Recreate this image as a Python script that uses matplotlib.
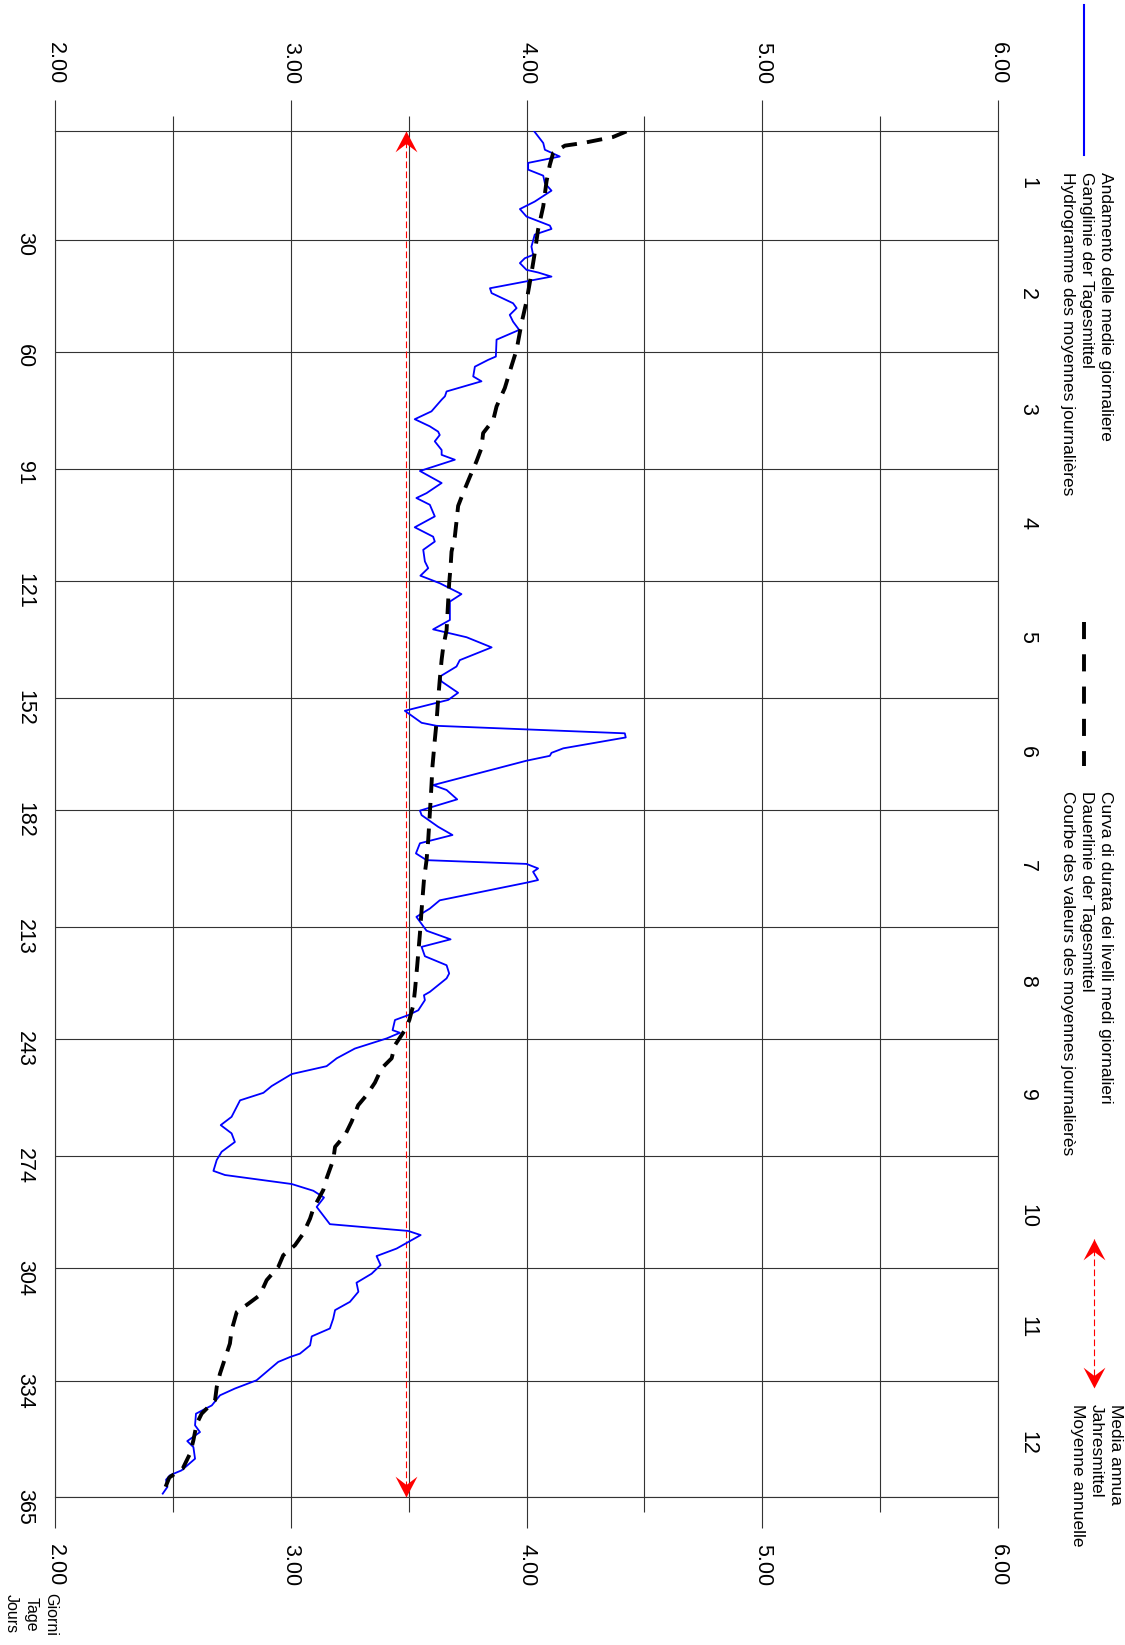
import numpy as np
import matplotlib.pyplot as plt
from matplotlib.path import Path
from matplotlib.ticker import FixedLocator, FixedFormatter

plt.rcParams['font.family'] = ['Liberation Sans', 'DejaVu Sans']

# daily mean water level, vertices of the hydrograph (day of year, level)
daily_day = [1.1, 4.2, 6.0, 7.8, 9.5, 11.3, 12.9, 14.9, 16.9, 19.8, 21.8, 23.8, 26.2, 27.1,
             28.6, 31.8, 34.0, 34.9, 36.2, 38.0, 38.7, 39.8, 42.9, 44.2, 46.9, 48.2, 50.0,
             51.8, 54.0, 56.6, 61.1, 62.0, 63.8, 66.4, 67.7, 70.4, 71.7, 72.6, 75.7, 77.8,
             79.7, 81.1, 82.0, 83.7, 86.0, 87.3, 88.6, 91.6, 94.8, 97.5, 98.8, 100.6, 103.7,
             106.6, 109.1, 110.4, 112.6, 115.7, 117.5, 119.5, 121.5, 124.4, 126.4, 131.3,
             133.8, 135.9, 138.6, 142.0, 143.7, 146.4, 147.7, 150.7, 152.6, 155.5, 158.7,
             159.5, 161.5, 162.6, 165.5, 166.7, 167.5, 168.8, 175.3, 176.6, 179.1, 182.1,
             183.3, 186.4, 188.6, 190.8, 193.5, 195.3, 196.3, 197.5, 198.4, 200.6, 201.3,
             206.0, 208.2, 210.4, 214.1, 216.4, 218.4, 220.9, 223.3, 225.5, 226.8, 230.4,
             231.3, 232.6, 235.3, 236.6, 237.9, 240.6, 241.3, 242.8, 245.5, 248.1, 250.2,
             252.3, 255.5, 257.3, 259.3, 263.7, 265.9, 268.1, 270.4, 273.0, 275.2, 278.1,
             279.2, 281.6, 283.4, 285.2, 287.7, 292.3, 294.1, 295.2, 298.8, 300.8, 303.2,
             305.5, 307.9, 310.3, 313.0, 315.2, 317.5, 320.1, 322.2, 324.6, 326.8, 327.7,
             329.0, 332.0, 333.9, 336.1, 337.9, 340.6, 342.8, 345.9, 347.7, 350.1, 351.7,
             354.8, 357.9, 359.2, 360.4, 362.3, 364.1]
daily_level = [4.033, 4.071, 4.078, 4.141, 4.007, 4.007, 4.071, 4.078, 4.106, 4.035, 3.972,
               4.000, 4.099, 4.106, 4.035, 4.021, 4.028, 3.993, 3.972, 4.000, 4.049, 4.106,
               3.845, 3.852, 3.943, 3.958, 3.929, 3.943, 3.969, 3.873, 3.870, 3.837, 3.781,
               3.774, 3.809, 3.661, 3.654, 3.640, 3.597, 3.526, 3.590, 3.625, 3.632, 3.611,
               3.640, 3.640, 3.696, 3.548, 3.640, 3.576, 3.533, 3.590, 3.611, 3.526, 3.604,
               3.611, 3.562, 3.569, 3.583, 3.550, 3.632, 3.724, 3.675, 3.675, 3.604, 3.746,
               3.852, 3.717, 3.703, 3.632, 3.640, 3.710, 3.668, 3.484, 3.555, 3.618, 4.417,
               4.421, 4.156, 4.106, 4.099, 4.000, 3.604, 3.661, 3.706, 3.548, 3.555, 3.625,
               3.686, 3.548, 3.531, 3.576, 4.000, 4.049, 4.028, 4.049, 4.000, 3.632, 3.590,
               3.533, 3.576, 3.678, 3.555, 3.569, 3.661, 3.672, 3.661, 3.590, 3.565, 3.569,
               3.541, 3.498, 3.442, 3.432, 3.463, 3.407, 3.272, 3.195, 3.152, 3.004, 2.919,
               2.884, 2.785, 2.749, 2.703, 2.749, 2.763, 2.707, 2.686, 2.672, 2.721, 3.004,
               3.096, 3.141, 3.110, 3.166, 3.498, 3.551, 3.449, 3.364, 3.381, 3.343, 3.279,
               3.287, 3.251, 3.188, 3.180, 3.166, 3.089, 3.082, 3.039, 2.997, 2.947, 2.891,
               2.855, 2.763, 2.700, 2.665, 2.598, 2.594, 2.615, 2.561, 2.587, 2.594, 2.537,
               2.488, 2.471, 2.477, 2.457]

# duration curve of the daily means
duration_day = [1.1, 2.6, 4.2, 4.9, 6.9, 10.0, 14.4, 21.1, 27.3, 33.5, 38.9, 46.4, 52.2,
                59.3, 63.7, 69.5, 74.4, 78.0, 81.5, 85.5, 89.0, 93.1, 97.5, 100.9, 105.1,
                109.1, 113.1, 117.1, 121.5, 126.0, 134.0, 138.4, 141.9, 147.3, 152.6, 158.8,
                163.3, 170.4, 175.3, 182.8, 190.0, 195.3, 200.6, 208.6, 214.8, 223.7, 229.9,
                233.9, 237.9, 240.6, 244.6, 248.1, 250.8, 254.6, 257.9, 260.6, 265.0, 268.6,
                271.7, 275.2, 280.1, 283.2, 288.1, 290.8, 294.8, 297.9, 300.6, 303.7, 307.2,
                311.2, 313.5, 315.7, 320.6, 324.1, 328.1, 332.1, 335.7, 339.2, 342.8, 345.5,
                349.9, 353.4, 357.4, 359.8, 363.7]
duration_level = [4.424, 4.367, 4.240, 4.163, 4.113, 4.099, 4.085, 4.071, 4.049, 4.035,
                  4.021, 4.000, 3.979, 3.958, 3.936, 3.908, 3.873, 3.859, 3.816, 3.809,
                  3.788, 3.760, 3.731, 3.710, 3.703, 3.696, 3.682, 3.678, 3.672, 3.668,
                  3.661, 3.647, 3.640, 3.632, 3.625, 3.618, 3.611, 3.601, 3.597, 3.590,
                  3.583, 3.576, 3.565, 3.555, 3.548, 3.536, 3.527, 3.520, 3.503, 3.484,
                  3.442, 3.428, 3.385, 3.357, 3.322, 3.286, 3.258, 3.230, 3.188, 3.180,
                  3.152, 3.138, 3.096, 3.082, 3.053, 3.018, 2.968, 2.947, 2.898, 2.869,
                  2.820, 2.771, 2.749, 2.742, 2.721, 2.700, 2.686, 2.679, 2.622, 2.601,
                  2.587, 2.573, 2.542, 2.485, 2.460]

annual_mean = 3.49

level_ticks = [2, 3, 4, 5, 6]
level_minor = [2.5, 3.5, 4.5, 5.5]
day_ticks = [30, 60, 91, 121, 152, 182, 213, 243, 274, 304, 334, 365]
month_labels = ['1', '2', '3', '4', '5', '6', '7', '8', '9', '10', '11', '12']

legend_daily = ('Andamento delle medie giornaliere\nGanglinie der Tagesmittel\n'
                'Hydrogramme des moyennes journalières')
legend_duration = ('Curva di durata dei livelli medi giornalieri\nDauerlinie der Tagesmittel\n'
                   'Courbe des valeurs des moyennes journalierès')
legend_mean = 'Media annua\nJahresmittel\nMoyenne annuelle'
days_label = 'Giorni\nTage\nJours'

# notched arrow heads, tip at the data point
arrow_up = Path([(0, 0), (0.525, -1), (0, -0.6), (-0.525, -1), (0, 0)],
                [Path.MOVETO, Path.LINETO, Path.LINETO, Path.LINETO, Path.CLOSEPOLY])
arrow_down = Path([(0, 0), (0.525, 1), (0, 0.6), (-0.525, 1), (0, 0)],
                  [Path.MOVETO, Path.LINETO, Path.LINETO, Path.LINETO, Path.CLOSEPOLY])

W, H = 1125, 1645
fig = plt.figure(figsize=(W / 100, H / 100), dpi=100)
ax = fig.add_axes([55 / W, 1 - 1497 / H, 943 / W, 1366 / H])
ax.set_xlim(2, 6)
ax.set_ylim(365, 1)

gc = '#333333'
ax.xaxis.set_major_locator(FixedLocator(level_ticks))
ax.xaxis.set_minor_locator(FixedLocator(level_minor))
ax.xaxis.set_major_formatter(lambda v, p: f'{v:.2f}')
ax.tick_params(axis='x', which='major', top=True, bottom=True, labeltop=True,
               labelbottom=True, direction='out', length=22.3, width=0.8, color=gc,
               labelsize=15.5, pad=11.5, labelrotation=270)
ax.tick_params(axis='x', which='minor', top=True, bottom=True, direction='out',
               length=10.8, width=0.8, color=gc)

month_pos = [(a + b) / 2 for a, b in zip([1] + day_ticks[:-1], day_ticks)]
ax.yaxis.set_major_locator(FixedLocator(day_ticks))
ax.yaxis.set_major_formatter(FixedFormatter([str(d) for d in day_ticks]))
ax.yaxis.set_minor_locator(FixedLocator(month_pos))
ax.yaxis.set_minor_formatter(FixedFormatter(month_labels))
ax.tick_params(axis='y', which='major', length=0, labelleft=True, labelright=False,
               labelsize=15.5, pad=14.4, labelrotation=270)
ax.tick_params(axis='y', which='minor', length=0, labelleft=False, labelright=True,
               labelsize=15.5, pad=13.7, labelrotation=270)

ax.grid(axis='x', which='both', color=gc, lw=0.8)
ax.grid(axis='y', which='major', color=gc, lw=0.8)
for s in ax.spines.values():
    s.set_color(gc)
    s.set_linewidth(0.8)

ax.plot(daily_level, daily_day, color='#0000ff', lw=1.3, zorder=3)
ax.plot(duration_level, duration_day, color='black', lw=2.8, dashes=(4.0, 2.6), zorder=4)
ax.plot([annual_mean, annual_mean], [1, 365], color='red', lw=0.8, dashes=(6, 3), zorder=2)
ax.plot(annual_mean, 1, marker=arrow_up, ms=30, color='red', mew=0, clip_on=False, zorder=5)
ax.plot(annual_mean, 365, marker=arrow_down, ms=30, color='red', mew=0, clip_on=False, zorder=5)

# legend and axis caption, drawn in pixel space
lg = fig.add_axes([0, 0, 1, 1])
lg.set_xlim(0, W)
lg.set_ylim(H, 0)
lg.axis('off')
txt = dict(rotation=-90, rotation_mode='anchor', ha='left', va='top', fontsize=12.5,
           linespacing=1.32)
lg.plot([1084, 1084], [5, 155], color='#0000ff', lw=1.5)
lg.text(1113, 172, legend_daily, **txt)
lg.plot([1084, 1084], [622, 766], color='black', lw=2.8, dashes=(4.4, 3.9))
lg.text(1113, 791, legend_duration, **txt)
lg.plot([1094, 1094], [1239, 1388], color='red', lw=0.8, dashes=(6, 3))
lg.plot(1094, 1239, marker=arrow_up, ms=30, color='red', mew=0)
lg.plot(1094, 1388, marker=arrow_down, ms=30, color='red', mew=0)
lg.text(1123, 1404, legend_mean, **txt)
lg.text(58, 1614, days_label, rotation=-90, rotation_mode='anchor', ha='center', va='top',
        multialignment='center', fontsize=11.5, linespacing=1.4)

fig.savefig('out.png', dpi=100)
